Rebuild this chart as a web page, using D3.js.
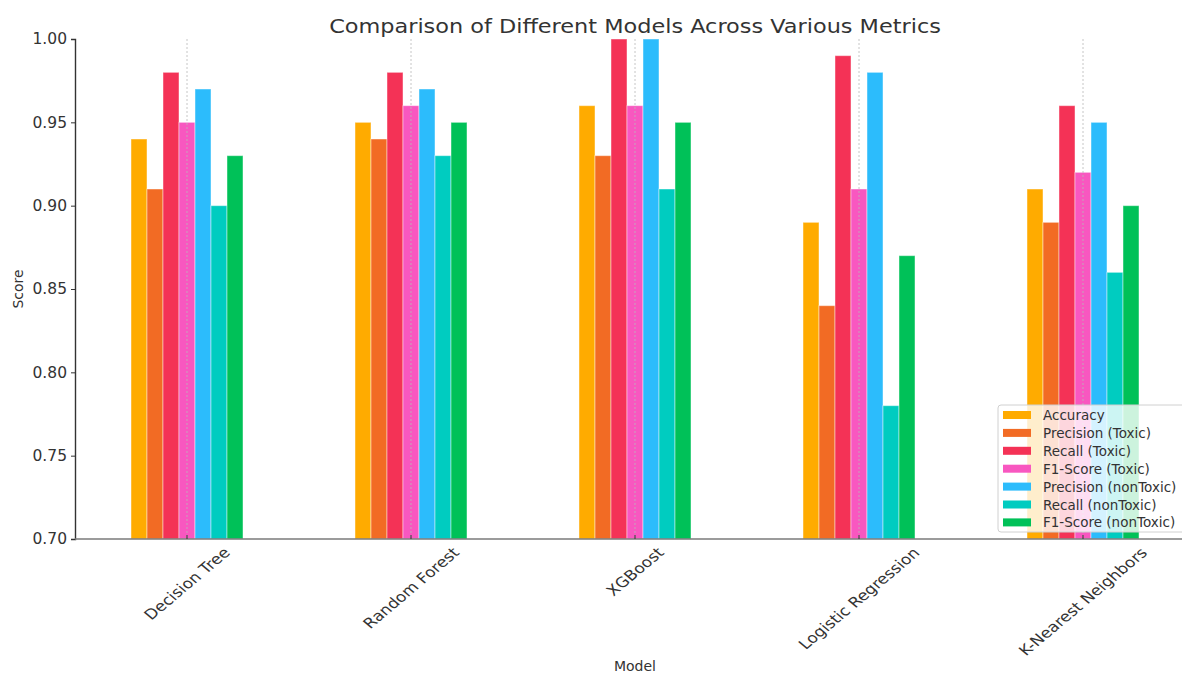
<!DOCTYPE html>
<html><head><meta charset="utf-8">
<script src="https://cdn.jsdelivr.net/npm/d3@7"></script>
<style>
body{margin:0;background:#fff;}
text{font-family:"DejaVu Sans",sans-serif;fill:#333;}
</style></head>
<body><svg id="c" width="1182" height="673"></svg>
<script>
const models = ["Decision Tree","Random Forest","XGBoost","Logistic Regression","K-Nearest Neighbors"];
const metrics = ["Accuracy","Precision (Toxic)","Recall (Toxic)","F1-Score (Toxic)","Precision (nonToxic)","Recall (nonToxic)","F1-Score (nonToxic)"];
const accuracy = [0.94,0.95,0.96,0.89,0.91];
const precisionToxic = [0.91,0.94,0.93,0.84,0.89];
const recallToxic = [0.98,0.98,1.00,0.99,0.96];
const f1Toxic = [0.95,0.96,0.96,0.91,0.92];
const precisionNonToxic = [0.97,0.97,1.00,0.98,0.95];
const recallNonToxic = [0.90,0.93,0.91,0.78,0.86];
const f1NonToxic = [0.93,0.95,0.95,0.87,0.90];
const yTicks = [0.70,0.75,0.80,0.85,0.90,0.95,1.00];
const colors = ["#FFAB00","#F26B24","#F43256","#F857C0","#2CBCFC","#00CCC0","#00C158"];

const series = [accuracy,precisionToxic,recallToxic,f1Toxic,precisionNonToxic,recallNonToxic,f1NonToxic];
const svg = d3.select("#c");
const L=75, R=1195, T=39, B=539;
const x = d3.scaleBand().domain(models).range([L,R]).paddingInner(0).paddingOuter(0);
const y = d3.scaleLinear().domain([0.70,1.00]).range([B,T]);
const groupW = x.bandwidth()*0.5;
const xi = d3.scaleBand().domain(metrics).range([0,groupW]);

svg.append("defs").append("clipPath").attr("id","pc").append("rect")
  .attr("x",L).attr("y",T-2).attr("width",R-L).attr("height",B-T+2);

const plot = svg.append("g").attr("clip-path","url(#pc)");
metrics.forEach((m,mi)=>{
  plot.append("g").selectAll("rect").data(models).join("rect")
    .attr("x",d=>x(d)+x.bandwidth()/2-groupW/2+xi(m))
    .attr("width",xi.bandwidth())
    .attr("y",(d,i)=>y(series[mi][i]))
    .attr("height",(d,i)=>B-y(series[mi][i]))
    .attr("fill",colors[mi])
    .attr("stroke","rgba(255,255,255,0.45)").attr("stroke-width",1);
});

// vertical grid
svg.append("g").selectAll("line").data(models).join("line")
  .attr("x1",d=>x(d)+x.bandwidth()/2).attr("x2",d=>x(d)+x.bandwidth()/2)
  .attr("y1",T).attr("y2",B)
  .attr("stroke","#b8b8b8").attr("stroke-width",0.8).attr("stroke-dasharray","2,2");

// y axis
const yAxis = d3.axisLeft(y).tickValues(yTicks).tickFormat(d3.format(".2f")).tickSize(4).tickPadding(4);
const yg = svg.append("g").attr("transform",`translate(${L},0)`).call(yAxis);
yg.select(".domain").attr("stroke","#333").attr("stroke-width",1.4);
yg.selectAll(".tick line").attr("stroke","#333");
yg.selectAll(".tick text").style("font-size","15.5px").attr("fill","#333");

// x axis
svg.append("line").attr("x1",L).attr("x2",R).attr("y1",B).attr("y2",B).attr("stroke","#7a7a7a").attr("stroke-width",1.4);
const xg = svg.append("g");
xg.selectAll("line").data(models).join("line")
  .attr("x1",d=>x(d)+x.bandwidth()/2).attr("x2",d=>x(d)+x.bandwidth()/2)
  .attr("y1",B).attr("y2",B-4).attr("stroke","#333");
const lbl = xg.selectAll("text").data(models).join("text")
  .text(d=>d).style("font-size","15px")
  .attr("text-anchor","middle").attr("dominant-baseline","central");
const sx=1.13, sy=0.95;
lbl.each(function(d){
  const Lw = this.getComputedTextLength();
  const h = 15;
  const halfH = (Lw+h)*Math.SQRT1_2/2*sy;
  const cx = x(d)+x.bandwidth()/2;
  d3.select(this).attr("transform",`translate(${cx},${B+6+halfH}) scale(${sx},${sy}) rotate(-45)`);
});

// titles
svg.append("text").attr("transform",`translate(${(L+R)/2},33) scale(1.12,1)`).attr("text-anchor","middle")
  .style("font-size","20px").text("Comparison of Different Models Across Various Metrics");
svg.append("text").attr("x",(L+R)/2).attr("y",671).attr("text-anchor","middle")
  .style("font-size","14px").text("Model");
svg.append("text").attr("transform",`translate(23,${(T+B)/2}) rotate(-90)`).attr("text-anchor","middle")
  .style("font-size","14px").text("Score");

// legend
const lg = svg.append("g");
lg.append("rect").attr("x",998).attr("y",405).attr("width",196).attr("height",127).attr("rx",3)
  .attr("fill","rgba(255,255,255,0.8)").attr("stroke","#d0d0d0").attr("stroke-width",1);
const items = lg.selectAll("g").data(metrics).join("g")
  .attr("transform",(d,i)=>`translate(0,${415+i*17.9})`);
items.append("rect").attr("x",1003).attr("y",-4).attr("width",28).attr("height",8).attr("fill",(d,i)=>colors[i]);
items.append("text").attr("x",1043).attr("y",0).attr("dominant-baseline","central")
  .style("font-size","13.5px").text(d=>d);
</script></body></html>
